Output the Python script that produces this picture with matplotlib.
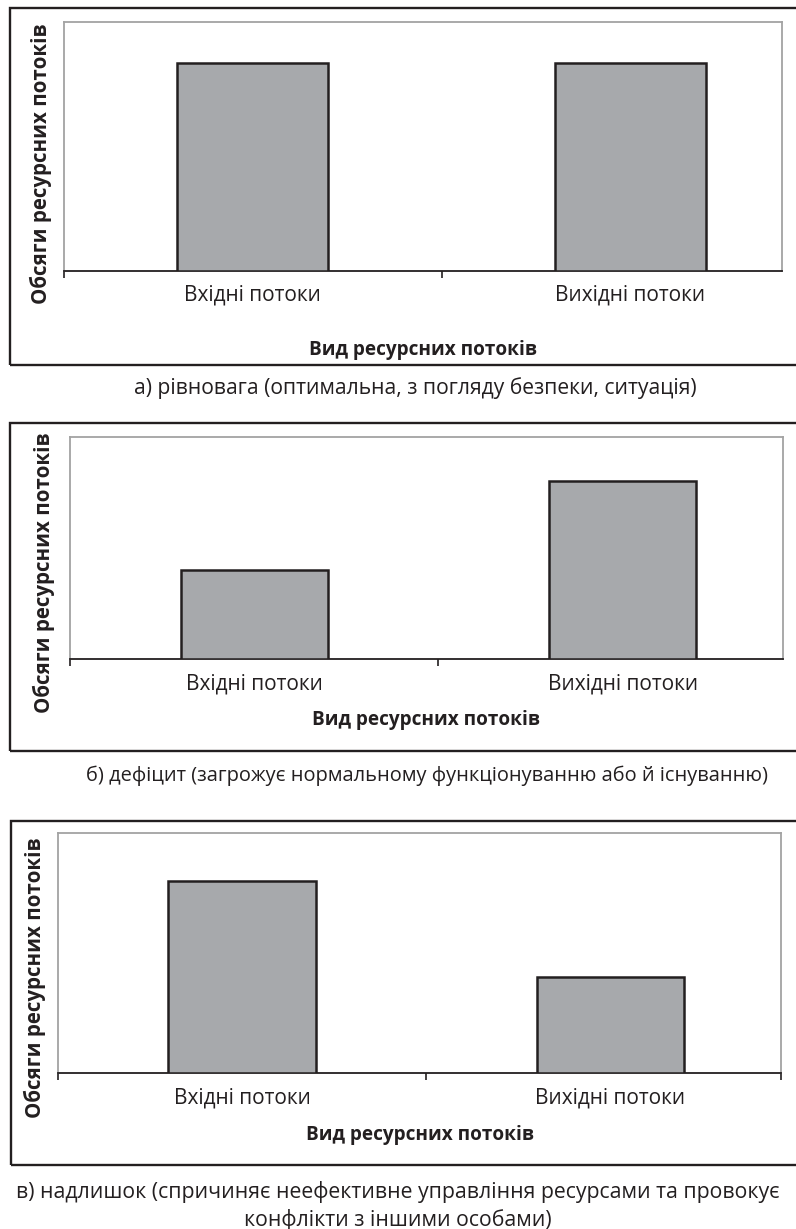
import matplotlib
matplotlib.use("Agg")
import matplotlib.pyplot as plt
from matplotlib.patches import Rectangle

plt.rcParams['font.family'] = ['Open Sans', 'DejaVu Sans']

# ---- data ----
categories = ["Вхідні потоки", "Вихідні потоки"]
values_a = [1.0, 1.0]
values_b = [0.48, 0.96]
values_c = [0.96, 0.48]
y_label = "Обсяги ресурсних потоків"
x_label = "Вид ресурсних потоків"
captions = [
    "а) рівновага (оптимальна, з погляду безпеки, ситуація)",
    "б) дефіцит (загрожує нормальному функціонуванню або й існуванню)",
    "в) надлишок (спричиняє неефективне управління ресурсами та провокує\nконфлікти з іншими особами)",
]

W, H = 796, 1229
fig = plt.figure(figsize=(W / 100, H / 100), dpi=100)

BAR = "#A7A9AC"
DARK = "#231F20"
GRAY = "#A3A3A3"

# layout in pixels
panels = [
    dict(vals=values_a, ax=(64, 782, 21.5, 270.5), xr=1.401, box=(10, 8, 365),
         ylx=41, yly=164, xly=350, cap=(415, 388), capfs=15.2, right_tick=False),
    dict(vals=values_b, ax=(70, 783, 436.5, 659.3), xr=1.435, box=(9.5, 423, 751),
         ylx=44, yly=573, xly=720, cap=(427, 776), capfs=14.4, right_tick=False),
    dict(vals=values_c, ax=(58, 781, 833.3, 1073.3), xr=1.464, box=(11, 820.5, 1165),
         ylx=35, yly=978, xly=1135, cap=(398, 1206), capfs=15.3, right_tick=True),
]


def fx(px):
    return px / W


def fy(py):
    return 1 - py / H


for i, p in enumerate(panels):
    l, r, t, b = p["ax"]
    bl, bt, bb = p["box"]
    fig.add_artist(Rectangle((fx(bl), fy(bb)), fx(805) - fx(bl), fy(bt) - fy(bb),
                             transform=fig.transFigure, fill=False,
                             edgecolor=DARK, linewidth=1.7, clip_on=False))

    ax = fig.add_axes([fx(l), fy(b), fx(r) - fx(l), fy(t) - fy(b)])
    x = list(range(len(categories)))
    ax.bar(x, p["vals"], width=0.4, color=BAR, edgecolor=DARK, linewidth=1.8, zorder=3)
    ax.set_xlim(-0.5, p["xr"])
    ax.set_ylim(0, 1.2)
    ax.set_yticks([])
    ax.set_xticks(x)
    ax.set_xticklabels(categories, fontsize=15, color=DARK)
    ax.tick_params(axis='x', which='major', length=0, pad=10)
    minor = [-0.5, 0.5] + ([p["xr"]] if p["right_tick"] else [])
    ax.set_xticks(minor, minor=True)
    ax.tick_params(axis='x', which='minor', length=5, width=1.2, color=DARK, direction='out')
    for s in ("top", "right", "left"):
        ax.spines[s].set_color(GRAY)
        ax.spines[s].set_linewidth(1.3)
    ax.spines["bottom"].set_color(DARK)
    ax.spines["bottom"].set_linewidth(1.3)

    fig.text(fx(p["ylx"]), fy(p["yly"]), y_label, rotation=90, fontsize=14.8,
             fontweight='bold', ha='center', va='center', color=DARK)
    fig.text(fx(0.5 * (l + r)), fy(p["xly"]), x_label,
             fontsize=13.7, fontweight='bold', ha='center', va='center', color=DARK)
    cx, cy = p["cap"]
    fig.text(fx(cx), fy(cy), captions[i], fontsize=p["capfs"], ha='center', va='center',
             color=DARK, linespacing=1.3)

fig.savefig("out.png", dpi=100, facecolor="white")
